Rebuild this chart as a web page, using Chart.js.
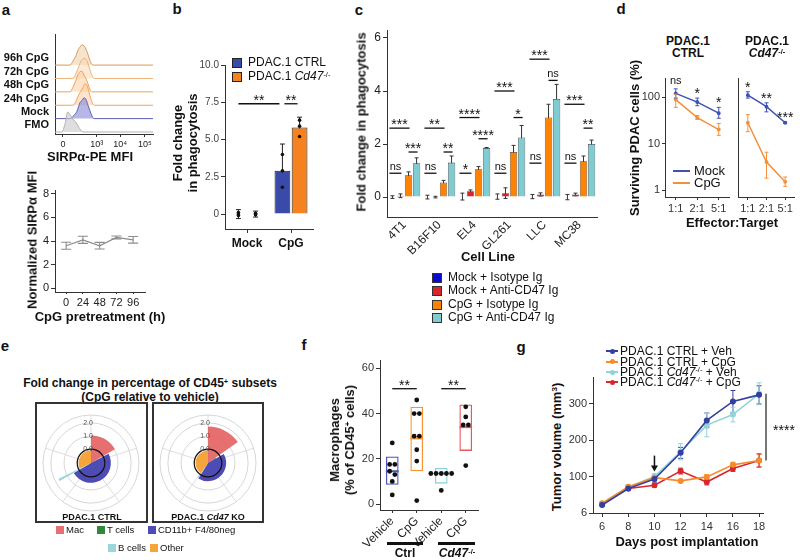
<!DOCTYPE html>
<html><head><meta charset="utf-8">
<script src="https://cdn.jsdelivr.net/npm/chart.js@4.4.1/dist/chart.umd.min.js"></script>
<style>
html,body{margin:0;padding:0;background:#fff;}
body{width:800px;height:560px;position:relative;overflow:hidden;font-family:"Liberation Sans",Arial,Helvetica,sans-serif;color:#111;}
canvas{position:absolute;}
.t{position:absolute;white-space:nowrap;line-height:1.15;z-index:5;}
.sq{position:absolute;z-index:5;box-sizing:border-box;}
sup{font-size:0.62em;vertical-align:0.45em;line-height:0;}
</style></head><body>
<script>
// ================= DATA =================
// Panel a (top): SIRPα-PE histograms, one ridge per condition
const ridgeNames = ['FMO','Mock','24h CpG','48h CpG','72h CpG','96h CpG'];
const ridgeX = [
 [-0.34,-0.06,0.09,0.21,0.30,0.43,0.56,0.68,0.81,0.90,3.85],
 [-0.34,0.30,0.47,0.60,0.73,0.81,0.90,0.98,1.07,1.15,1.24,1.32,3.85],
 [-0.34,0.43,0.56,0.68,0.77,0.85,0.94,1.03,1.11,1.20,1.28,1.37,3.85],
 [-0.34,0.30,0.43,0.56,0.64,0.73,0.81,0.90,0.98,1.07,1.15,1.24,3.85],
 [-0.34,0.43,0.56,0.68,0.77,0.85,0.94,1.03,1.11,1.20,1.28,1.37,3.85],
 [-0.34,0.30,0.43,0.56,0.64,0.73,0.81,0.90,0.98,1.07,1.15,1.24,1.32,3.85]
];
const ridgeH = [
 [0,0,0.6,1.5,1.3,0.95,0.7,0.35,0.05,0,0],
 [0,0,0.25,0.55,1.2,1.35,1.55,1.45,1.0,0.6,0.2,0,0],
 [0,0,0.3,0.8,1.05,1.3,1.6,1.45,1.0,0.45,0.1,0,0],
 [0,0,0.35,0.9,1.3,1.5,1.55,1.25,1.0,0.6,0.2,0,0],
 [0,0,0.4,0.9,1.3,1.45,1.5,1.3,0.9,0.4,0.1,0,0],
 [0,0,0.3,0.7,1.1,1.35,1.5,1.45,1.2,0.8,0.35,0.05,0,0]
];
const mfiTickPos = [0,1.45,2.45,3.5];
const mfiTickLabels = ['0','10³','10⁴','10⁵'];
// Panel a (bottom)
const cpgHours = [0,24,48,72,96];
const sirpMean = [3.6,4.1,3.6,4.3,4.1];
const sirpErr = [0.3,0.3,0.28,0.12,0.28];
const sirpTicks = [0,2,4,6,8];
// Panel b
const bCats = ['Mock','CpG'];
const bCtrl = [0.0,2.9];
const bKo = [0.0,5.8];
const bCtrlSd = [0.3,1.8];
const bKoSd = [0.2,0.7];
const bCtrlPts = [[0.1,0.0,-0.1],[4.0,2.9,1.8]];
const bKoPts = [[0.05,0.0,-0.05],[6.3,5.9,5.2]];
const bTicks = [0,2.5,5,7.5,10];
const bTickLabels = ['0','2.5','5.0','7.5','10.0'];
const bSig = ['**','**'];
const bSigY = [7.4,7.4];
// Panel c
const cCats = ['4T1','B16F10','EL4','GL261','LLC','MC38'];
const cSeriesNames = ['Mock + Isotype Ig','Mock + Anti-CD47 Ig','CpG + Isotype Ig','CpG + Anti-CD47 Ig'];
const cMockIso = [0.0,0.0,0.02,0.02,0.02,0.0];
const cMockAnti = [0.05,0.0,0.22,0.15,0.1,0.1];
const cCpgIso = [0.82,0.55,1.05,1.7,3.0,1.35];
const cCpgAnti = [1.28,1.3,1.85,2.25,3.7,2.0];
const cMockIsoSd = [0.05,0.07,0.13,0.1,0.08,0.1];
const cMockAntiSd = [0.07,0.03,0.05,0.2,0.06,0.05];
const cCpgIsoSd = [0.13,0.08,0.1,0.25,0.5,0.2];
const cCpgAntiSd = [0.2,0.25,0.02,0.45,0.55,0.15];
const cTicks = [0,2,4,6];
const cSigLeft = ['ns','ns','*','ns','ns','ns'];
const cSigLeftY = [0.9,0.9,0.9,0.9,1.28,1.28];
const cSigTop = ['***','**','****','***','***','***'];
const cSigTopY = [2.6,2.6,3.0,4.0,5.2,3.5];
const cSigRight = ['***','**','****','*','ns','**'];
const cSigRightY = [1.7,1.7,2.2,3.0,4.4,2.6];
// Panel d
const dRatios = ['1:1','2:1','5:1'];
const dCtrlMock = [120,78,45];
const dCtrlMockLo = [95,65,35];
const dCtrlMockHi = [150,95,60];
const dCtrlCpg = [88,36,20];
const dCtrlCpgLo = [60,33,15];
const dCtrlCpgHi = [115,40,27];
const dKoMock = [110,62,28];
const dKoMockLo = [95,48,27];
const dKoMockHi = [130,75,29];
const dKoCpg = [28,4,1.5];
const dKoCpgLo = [18,1.8,1.2];
const dKoCpgHi = [42,6.5,1.9];
const dCtrlSig = ['ns','*','*'];
const dKoSig = ['*','**','***'];
const dTicks = [1,10,100];
// Panel e
const eSubsets = ['Mac','T cells','CD11b+ F4/80neg','B cells','Other'];
const eCtrl = [1.05,-0.5,0.46,1.7,-0.1];
const eKo = [1.72,-0.35,0.33,0.3,-0.1];
const eCtrlAngle = [60,2,178,4,116];
const eKoAngle = [55,5,152,4,144];
const eRingTicks = [0,1,2];
// Panel f
const fCats = ['Vehicle','CpG','Vehicle','CpG'];
const fLow = [8.5,14.5,9,23.5];
const fHigh = [21,43,16,44];
const fMean = [14.5,29,13.5,34];
const fPts = [[27,17.5,17.5,14.5,13,10,4],[46,40,40,30,30,24,19,1.5],[13.5,13.5,13.5,13.5,13.5,6],[43,38.5,35,35,17]];
const fTicks = [0,20,40,60];
const fSig = ['**','**'];
const fSigY = [51,51];
// Panel g
const gDays = [6,8,10,12,14,16,18];
const gSeries = ['PDAC.1 CTRL + Veh','PDAC.1 CTRL + CpG','PDAC.1 Cd47-/- + Veh','PDAC.1 Cd47-/- + CpG'];
const gCtrlVeh = [22,67,93,165,254,306,324];
const gCtrlCpg = [27,72,97,88,99,132,144];
const gKoVeh = [25,71,100,168,241,270,327];
const gKoCpg = [25,67,76,115,85,122,144];
const gCtrlVehSd = [3,5,8,15,20,30,25];
const gCtrlCpgSd = [3,5,6,4,6,7,18];
const gKoVehSd = [3,5,8,22,32,20,30];
const gKoCpgSd = [3,4,5,8,8,8,18];
const gTicks = [0,100,200,300];
const gTickLabels = ['6','100','200','300'];
const gArrowDay = 10;
const gSigText = '****';

// ================= STYLE / HELPERS =================
const FONT = '"Liberation Sans", Arial, Helvetica, sans-serif';
Chart.defaults.font.family = FONT;
Chart.defaults.font.size = 11;
Chart.defaults.color = '#222';
Chart.defaults.plugins.legend.display = false;
Chart.defaults.plugins.tooltip.enabled = false;
Chart.defaults.animation = false;
const AX = '#333';

function merge(a,b){ for(const k in b){ const v=b[k]; if(v && typeof v==='object' && !Array.isArray(v) && a[k] && typeof a[k]==='object' && typeof a[k]!=='function') merge(a[k],v); else a[k]=v; } return a; }
function lin(min,max,ticks,labels,extra){
  return merge({type:'linear',bounds:'data',min,max,
    afterBuildTicks:s=>{s.ticks=ticks.map(v=>({value:v}));},
    ticks:{autoSkip:false,maxRotation:0,padding:2,callback:(v,i)=>labels?labels[i]:String(v)},
    grid:{display:true,drawOnChartArea:false,drawTicks:true,tickLength:4,color:AX},
    border:{display:true,color:AX,width:1}}, extra||{});
}
function cat(extra){
  return merge({type:'category',offset:true,
    ticks:{autoSkip:false,maxRotation:0,padding:2},
    grid:{display:true,drawOnChartArea:false,drawTicks:true,tickLength:4,color:AX,offset:false},
    border:{display:true,color:AX,width:1}}, extra||{});
}
function mk(box,area,cfg){
  const cv=document.createElement('canvas');
  cv.width=box.w; cv.height=box.h;
  cv.style.left=box.l+'px'; cv.style.top=box.t+'px';
  cv.style.width=box.w+'px'; cv.style.height=box.h+'px';
  document.body.appendChild(cv);
  const o=cfg.options=cfg.options||{};
  const hasX=o.scales&&o.scales.x, hasY=o.scales&&o.scales.y;
  o.responsive=false; o.maintainAspectRatio=false; o.animation=false; o.devicePixelRatio=1; o.events=[];
  o.layout={padding:{left:hasY?0:area.l-box.l, top:area.t-box.t, right:box.l+box.w-area.r, bottom:hasX?0:box.t+box.h-area.b}};
  if(hasY) o.scales.y.afterFit=s=>{s.width=area.l-box.l;};
  if(hasX) o.scales.x.afterFit=s=>{s.height=box.t+box.h-area.b;};
  return new Chart(cv.getContext('2d'),cfg);
}
function vbar(ctx,x,y1,y2,cap,color,lw){
  ctx.save(); ctx.strokeStyle=color; ctx.lineWidth=lw||1;
  ctx.beginPath(); ctx.moveTo(x,y1); ctx.lineTo(x,y2);
  ctx.moveTo(x-cap/2,y1); ctx.lineTo(x+cap/2,y1);
  ctx.moveTo(x-cap/2,y2); ctx.lineTo(x+cap/2,y2);
  ctx.stroke(); ctx.restore();
}
function sig(ctx,x1,x2,y,text){
  ctx.save(); ctx.strokeStyle='#111'; ctx.lineWidth=1.3;
  ctx.beginPath(); ctx.moveTo(x1,y); ctx.lineTo(x2,y); ctx.stroke();
  ctx.fillStyle='#111'; ctx.textAlign='center'; ctx.textBaseline='alphabetic';
  const star=text.indexOf('*')>=0;
  ctx.font=(star?14:11)+'px '+FONT;
  ctx.fillText(text,(x1+x2)/2, star? y+1 : y-3);
  ctx.restore();
}
function T(html,x,y,o){
  o=o||{};
  const d=document.createElement('div'); d.className='t'; d.innerHTML=html;
  d.style.left=x+'px'; d.style.top=y+'px'; d.style.fontSize=(o.s||12)+'px';
  if(o.b) d.style.fontWeight='bold';
  if(o.lh) d.style.lineHeight=o.lh+'px';
  if(o.ta) d.style.textAlign=o.ta;
  let tr=o.a==='l'?'translate(0,-50%)':'translate(-50%,-50%)';
  if(o.r) tr+=' rotate(-90deg)';
  d.style.transform=tr;
  document.body.appendChild(d);
}
function SQ(x,y,w,h,bg,bd){
  const d=document.createElement('div'); d.className='sq';
  d.style.cssText+=`left:${x}px;top:${y}px;width:${w}px;height:${h}px;background:${bg};`+(bd?`border:${bd};`:'');
  document.body.appendChild(d);
}
const fmt=s=>s.replace('Cd47-/-','<i>Cd47</i><sup>-/-</sup>');

// ================= PANEL a (histograms) =================
const ridgeLine=['#b0b0b0','#5e5eb8','#f3a35e','#f2a05a','#eeb27a','#d8985e'];
const ridgeFill=['rgba(200,200,200,0.6)','rgba(135,135,215,0.6)','rgba(251,205,160,0.55)','rgba(251,205,160,0.55)','rgba(250,215,180,0.55)','rgba(240,205,168,0.55)'];
mk({l:0,t:22,w:162,h:128},{l:55,t:30,r:153,b:134},{
  type:'line',
  data:{datasets:ridgeNames.map((n,i)=>({label:n,
    data:ridgeX[i].map((x,k)=>({x:x,y:i+ridgeH[i][k]})),
    borderColor:ridgeLine[i],backgroundColor:ridgeFill[i],borderWidth:1,
    fill:{value:i},pointRadius:0,cubicInterpolationMode:'monotone'}))},
  options:{scales:{
    x:lin(-0.34,3.85,mfiTickPos,mfiTickLabels,{ticks:{font:{size:9}},grid:{tickLength:3}}),
    y:lin(-0.15,7.28,ridgeNames.map((n,i)=>i+0.5),ridgeNames,{ticks:{font:{size:11,weight:'bold'},color:'#111',padding:6},grid:{display:false,drawTicks:false}})
  }}
});

// ================= PANEL a (line) =================
mk({l:0,t:180,w:160,h:128},{l:55,t:190,r:145,b:292},{
  type:'line',
  data:{datasets:[{label:'SIRPα',data:cpgHours.map((h,i)=>({x:h,y:sirpMean[i]})),borderColor:'#8c8c8c',borderWidth:1.2,pointRadius:0,tension:0}]},
  options:{scales:{
    x:lin(-16,113,cpgHours,null,{grid:{tickLength:2}}),
    y:lin(-0.3,8.3,sirpTicks,null,{})
  }},
  plugins:[{id:'ea',beforeDatasetsDraw(ch){const {ctx,scales:{x,y}}=ch;
    cpgHours.forEach((h,i)=>vbar(ctx,x.getPixelForValue(h),y.getPixelForValue(sirpMean[i]+sirpErr[i]),y.getPixelForValue(sirpMean[i]-sirpErr[i]),10,'#8c8c8c',1.1));}}]
});

// ================= PANEL b =================
mk({l:195,t:52,w:125,h:198},{l:225,t:65,r:313,b:229},{
  type:'bar',
  data:{labels:bCats,datasets:[
    {label:'PDAC.1 CTRL',data:bCtrl,backgroundColor:'#3a4aa8',borderColor:'#222',borderWidth:1},
    {label:'PDAC.1 Cd47-/-',data:bKo,backgroundColor:'#f5821f',borderColor:'#222',borderWidth:1}]},
  options:{datasets:{bar:{categoryPercentage:0.78,barPercentage:0.92}},
    scales:{
      x:cat({ticks:{font:{size:12,weight:'bold'},color:'#111',padding:3}}),
      y:lin(-1,10,bTicks,bTickLabels,{ticks:{font:{size:10},color:'#444'}})
    }},
  plugins:[{id:'pb',
    beforeDatasetsDraw(ch){const {ctx,scales:{y}}=ch; const sds=[bCtrlSd,bKoSd];
      ch.data.datasets.forEach((ds,di)=>ch.getDatasetMeta(di).data.forEach((bar,i)=>{
        const v=ds.data[i],s=sds[di][i]; vbar(ctx,bar.x,y.getPixelForValue(v+s),y.getPixelForValue(v-s),5,'#222',1);}));},
    afterDatasetsDraw(ch){const {ctx,scales:{y}}=ch; const pts=[bCtrlPts,bKoPts];
      ctx.save(); ctx.fillStyle='#111';
      [0,1].forEach(di=>ch.getDatasetMeta(di).data.forEach((bar,i)=>pts[di][i].forEach(v=>{ctx.beginPath();ctx.arc(bar.x,y.getPixelForValue(v),1.8,0,Math.PI*2);ctx.fill();})));
      ctx.restore();
      const m0=ch.getDatasetMeta(0).data, m1=ch.getDatasetMeta(1).data;
      sig(ctx,m0[0].x,m0[1].x-3,y.getPixelForValue(bSigY[0]),bSig[0]);
      sig(ctx,m0[1].x+2,m1[1].x-2,y.getPixelForValue(bSigY[1]),bSig[1]);
    }}]
});

// ================= PANEL c =================
const cColors=['#0a0ad2','#d7262b','#ff8200','#7fcdd3'];
const cVals=[cMockIso,cMockAnti,cCpgIso,cCpgAnti];
const cSds=[cMockIsoSd,cMockAntiSd,cCpgIsoSd,cCpgAntiSd];
mk({l:345,t:20,w:260,h:250},{l:387,t:30,r:597,b:217},{
  type:'bar',
  data:{labels:cCats,datasets:cSeriesNames.map((n,i)=>({label:n,data:cVals[i],backgroundColor:cColors[i],borderColor:'#444',borderWidth:0.8}))},
  options:{datasets:{bar:{categoryPercentage:0.92,barPercentage:0.92}},
    scales:{
      x:cat({ticks:{font:{size:12},maxRotation:45,minRotation:45,padding:1,color:'#222'},grid:{drawTicks:false}}),
      y:lin(-0.75,6.3,cTicks,null,{ticks:{font:{size:12}}})
    }},
  plugins:[{id:'pc',
    beforeDatasetsDraw(ch){const {ctx,scales:{y}}=ch;
      cVals.forEach((vals,di)=>ch.getDatasetMeta(di).data.forEach((bar,i)=>{
        vbar(ctx,bar.x,y.getPixelForValue(vals[i]+cSds[di][i]),y.getPixelForValue(vals[i]-cSds[di][i]),4,'#333',1);}));},
    afterDatasetsDraw(ch){const {ctx,scales:{y}}=ch;
      const m=d=>ch.getDatasetMeta(d).data;
      cCats.forEach((c,i)=>{
        const xs=[0,1,2,3].map(d=>m(d)[i].x);
        sig(ctx,xs[0]-3,xs[1]+1,y.getPixelForValue(cSigLeftY[i]),cSigLeft[i]);
        sig(ctx,xs[0]-3,xs[2]+1,y.getPixelForValue(cSigTopY[i]),cSigTop[i]);
        sig(ctx,xs[2],xs[3]+1,y.getPixelForValue(cSigRightY[i]),cSigRight[i]);
      });}}]
});

// ================= PANEL d =================
const dBlue='#3f51b5', dOrange='#f5903a';
function dChart(box,area,sets,sigs,showY){
  return mk(box,area,{
    type:'line',
    data:{labels:dRatios,datasets:sets.map(s=>({label:s.name,data:s.v,borderColor:s.color,backgroundColor:s.color,borderWidth:1.5,pointRadius:1.2,tension:0}))},
    options:{scales:{
      x:cat({ticks:{font:{size:11},color:'#333'},grid:{tickLength:3}}),
      y:merge({type:'logarithmic',bounds:'data',min:0.707,max:257,
        afterBuildTicks:s=>{s.ticks=dTicks.map(v=>({value:v}));},
        ticks:{display:showY,autoSkip:false,padding:2,font:{size:11},color:'#333',callback:v=>String(v)},
        grid:{display:true,drawOnChartArea:false,drawTicks:showY,tickLength:3,color:AX},
        border:{display:true,color:AX}},{})
    }},
    plugins:[{id:'pd',afterDatasetsDraw(ch){const {ctx,scales:{x,y}}=ch;
      sets.forEach(s=>s.lo.forEach((l,i)=>vbar(ctx,x.getPixelForValue(i),y.getPixelForValue(s.hi[i]),y.getPixelForValue(l),4,s.color,1)));
      ctx.save(); ctx.fillStyle='#111'; ctx.textAlign='center';
      sigs.forEach((t,i)=>{const top=Math.min(...sets.map(s=>y.getPixelForValue(s.hi[i])));
        const star=t.indexOf('*')>=0; ctx.font=(star?14:11)+'px '+FONT;
        ctx.fillText(t,x.getPixelForValue(i),star?top:top-5);});
      ctx.restore();}}]
  });
}
dChart({l:640,t:65,w:95,h:155},{l:665,t:78,r:731,b:197},
  [{name:'Mock',v:dCtrlMock,lo:dCtrlMockLo,hi:dCtrlMockHi,color:dBlue},{name:'CpG',v:dCtrlCpg,lo:dCtrlCpgLo,hi:dCtrlCpgHi,color:dOrange}],dCtrlSig,true);
dChart({l:733,t:65,w:67,h:155},{l:735,t:78,r:797,b:197},
  [{name:'Mock',v:dKoMock,lo:dKoMockLo,hi:dKoMockHi,color:dBlue},{name:'CpG',v:dKoCpg,lo:dKoCpgLo,hi:dKoCpgHi,color:dOrange}],dKoSig,false);

// ================= PANEL e (polar) =================
const eColors=['rgba(226,92,92,0.88)','#2f8a3c','rgba(66,66,176,0.95)','#9bd6dc','rgba(245,160,50,0.95)'];
const ePlugin={id:'ep',afterDatasetsDraw(ch){
  const r=ch.scales.r, ctx=ch.ctx; ctx.save();
  ctx.strokeStyle='#111'; ctx.lineWidth=1.2; ctx.beginPath();
  ctx.arc(r.xCenter,r.yCenter,r.getDistanceFromCenterForValue(0),0,Math.PI*2); ctx.stroke();
  ctx.font='7px '+FONT; ctx.fillStyle='#555'; ctx.textAlign='center'; ctx.textBaseline='middle';
  eRingTicks.forEach(v=>ctx.fillText(v.toFixed(1),r.xCenter-3,r.yCenter-r.getDistanceFromCenterForValue(v)));
  ctx.restore();}};
function ePolar(box,vals,angles){
  return mk(box,{l:box.l+2,t:box.t+2,r:box.l+box.w-2,b:box.t+box.h-2},{
    type:'polarArea',
    data:{labels:eSubsets,datasets:[{data:vals,angle:angles,backgroundColor:eColors,borderWidth:0}]},
    options:{scales:{r:{type:'radialLinear',bounds:'data',min:-1.05,max:2.6,
      afterBuildTicks:s=>{s.ticks=[-1.05].concat(eRingTicks,[2.6]).map(v=>({value:v}));},
      ticks:{display:false},pointLabels:{display:false},
      grid:{color:'#cdcdcd',lineWidth:0.8},angleLines:{display:true,color:'#d6d6d6',lineWidth:0.8},startAngle:0}}},
    plugins:[ePlugin]
  });
}
ePolar({l:41,t:413,w:100,h:100},eCtrl,eCtrlAngle);
ePolar({l:158,t:413,w:100,h:100},eKo,eKoAngle);

// ================= PANEL f =================
const fColors=['#4a55b5','#f79433','#8fd0d8','#e8585a'];
mk({l:350,t:350,w:135,h:200},{l:380,t:360,r:478,b:510},{
  type:'bar',
  data:{labels:fCats,datasets:[{label:'Macrophages',data:fLow.map((l,i)=>[l,fHigh[i]]),backgroundColor:'rgba(255,255,255,0)',borderColor:fColors,borderWidth:1.3,borderSkipped:false,barPercentage:0.52,categoryPercentage:1}]},
  options:{scales:{
    x:cat({ticks:{font:{size:12},maxRotation:45,minRotation:45,padding:1,color:'#222'},grid:{tickLength:3}}),
    y:lin(-2.65,63.7,fTicks,null,{ticks:{font:{size:11},color:'#333'}})
  }},
  plugins:[{id:'pf',afterDatasetsDraw(ch){
    const {ctx,scales:{x,y}}=ch; const bars=ch.getDatasetMeta(0).data; ctx.save();
    bars.forEach((b,i)=>{const ym=y.getPixelForValue(fMean[i]); ctx.strokeStyle=fColors[i]; ctx.lineWidth=2;
      ctx.beginPath(); ctx.moveTo(b.x-b.width/2,ym); ctx.lineTo(b.x+b.width/2,ym); ctx.stroke();});
    ctx.fillStyle='#111';
    fPts.forEach((vals,i)=>{const cx=x.getPixelForValue(i); const s=vals.slice().sort((a,b)=>b-a); let k=0;
      while(k<s.length){let j=k; while(j+1<s.length && s[k]-s[j+1]<1.6) j++; const n=j-k+1;
        for(let m=0;m<n;m++){ctx.beginPath(); ctx.arc(cx+(m-(n-1)/2)*5.2,y.getPixelForValue(s[k+m]),2.4,0,Math.PI*2); ctx.fill();}
        k=j+1;}});
    ctx.restore();
    sig(ctx,x.getPixelForValue(0),x.getPixelForValue(1),y.getPixelForValue(fSigY[0]),fSig[0]);
    sig(ctx,x.getPixelForValue(2),x.getPixelForValue(3),y.getPixelForValue(fSigY[1]),fSig[1]);
  }}]
});

// ================= PANEL g =================
const gColors=['#3340a0','#f68b2c','#92d3d9','#d8262f'];
const gVals=[gCtrlVeh,gCtrlCpg,gKoVeh,gKoCpg];
const gSds=[gCtrlVehSd,gCtrlCpgSd,gKoVehSd,gKoCpgSd];
mk({l:565,t:365,w:235,h:168},{l:593,t:377,r:763,b:513},{
  type:'line',
  data:{datasets:gSeries.map((n,si)=>({label:n,data:gDays.map((d,i)=>({x:d,y:gVals[si][i]})),borderColor:gColors[si],backgroundColor:gColors[si],borderWidth:1.6,pointRadius:2.2,tension:0}))},
  options:{scales:{
    x:lin(5.3,18.3,gDays,null,{ticks:{font:{size:11},color:'#333',padding:3}}),
    y:lin(0,373,gTicks,gTickLabels,{ticks:{font:{size:11},color:'#333'}})
  }},
  plugins:[{id:'pg',
    beforeDatasetsDraw(ch){const {ctx,scales:{x,y}}=ch;
      gVals.forEach((vals,si)=>vals.forEach((v,i)=>vbar(ctx,x.getPixelForValue(gDays[i]),y.getPixelForValue(v+gSds[si][i]),y.getPixelForValue(v-gSds[si][i]),5,gColors[si],1)));},
    afterDatasetsDraw(ch){const {ctx,scales:{x,y},chartArea:a}=ch; ctx.save();
      const di=gDays.indexOf(gArrowDay), ax=x.getPixelForValue(gArrowDay);
      const tip=Math.min(...gVals.map((v,si)=>y.getPixelForValue(v[di]+gSds[si][di])))-2;
      ctx.strokeStyle='#111'; ctx.fillStyle='#111'; ctx.lineWidth=1.5;
      ctx.beginPath(); ctx.moveTo(ax,tip-16); ctx.lineTo(ax,tip-4); ctx.stroke();
      ctx.beginPath(); ctx.moveTo(ax-3.5,tip-6); ctx.lineTo(ax+3.5,tip-6); ctx.lineTo(ax,tip); ctx.closePath(); ctx.fill();
      const last=gDays.length-1;
      const hi=y.getPixelForValue(Math.max(...gVals.map(v=>v[last]))), lo=y.getPixelForValue(Math.min(...gVals.map(v=>v[last])));
      ctx.strokeStyle='#777'; ctx.lineWidth=2; ctx.beginPath(); ctx.moveTo(a.right+3,hi); ctx.lineTo(a.right+3,lo); ctx.stroke();
      ctx.font='14px '+FONT; ctx.textAlign='center'; ctx.fillText(gSigText,a.right+21,(hi+lo)/2+8);
      ctx.restore();}}]
});

// ================= HTML TEXT / LEGENDS =================
// panel letters
T('a',6,10,{s:15,b:1}); T('b',177,9,{s:15,b:1}); T('c',359,10,{s:15,b:1}); T('d',621,9,{s:15,b:1});
T('e',5,346,{s:15,b:1}); T('f',304,345,{s:15,b:1}); T('g',521,347,{s:15,b:1});
// a
T('SIRPα-PE MFI',90,157,{s:13,b:1});
T('Normalized SIRPα MFI',33,240,{s:13,b:1,r:1});
T('CpG pretreatment (h)',100,317,{s:13,b:1});
// b
T('Fold change<br>in phagocytosis',185,143,{s:13,b:1,r:1,lh:15,ta:'center'});
SQ(232,58,10,10,'#3a4aa8','1px solid #222'); T('PDAC.1 CTRL',248,63,{a:'l',s:12});
SQ(232,72,10,10,'#f5821f','1px solid #222'); T(fmt('PDAC.1 Cd47-/-'),248,77,{a:'l',s:12});
// c
T('Fold change in phagocytosis',362,122,{s:13,b:1,r:1});
T('Cell Line',488,257,{s:13,b:1});
[278,291,305,318].forEach((yy,i)=>{SQ(432,yy-5,10,10,cColors[i],'1px solid #333'); T(cSeriesNames[i],448,yy,{a:'l',s:12});});
// d
T('PDAC.1',688,42,{s:12,b:1}); T('CTRL',688,54,{s:12,b:1});
T('PDAC.1',767,42,{s:12,b:1}); T('<i>Cd47</i><sup>-/-</sup>',767,54,{s:12,b:1});
T('Surviving PDAC cells (%)',635,138,{s:13,b:1,r:1});
T('Effector:Target',732,223,{s:13,b:1});
SQ(673,170,17,2,dBlue); T('Mock',694,171,{a:'l',s:13});
SQ(673,182,17,2,dOrange); T('CpG',694,183,{a:'l',s:13});
// e
T('Fold change in percentage of CD45<sup>+</sup> subsets',150,384,{s:12,b:1});
T('(CpG relative to vehicle)',150,398,{s:12,b:1});
SQ(35,402,113,121,'transparent','2px solid #333');
SQ(152,402,112,121,'transparent','2px solid #333');
T('PDAC.1 CTRL',92,517,{s:9,b:1});
T('PDAC.1 <i>Cd47</i> KO',208,517,{s:9,b:1});
const eLegPos=[[56,530],[97,530],[148,530],[108,548],[150,548]];
eSubsets.forEach((n,i)=>{SQ(eLegPos[i][0],eLegPos[i][1]-4,8,8,eColors[i]); T(n,eLegPos[i][0]+10,eLegPos[i][1],{a:'l',s:9.5});});
// f
T('Macrophages<br>(% of CD45<sup>+</sup> cells)',342,440,{s:13,b:1,r:1,lh:15,ta:'center'});
SQ(387,542,36,3,'#111'); SQ(438,542,37,3,'#111');
T('Ctrl',405,554,{s:12,b:1}); T('<i>Cd47</i><sup>-/-</sup>',457,554,{s:12,b:1});
// g
T('Tumor volume (mm<sup>3</sup>)',557,447,{s:13,b:1,r:1});
T('Days post implantation',687,542,{s:13,b:1});
[351,361.5,372,382].forEach((yy,i)=>{
  SQ(606,yy-1,12,2,gColors[i]);
  const d=document.createElement('div'); d.className='sq';
  d.style.cssText+=`left:${609.5}px;top:${yy-2.5}px;width:5px;height:5px;border-radius:50%;background:${gColors[i]};`;
  document.body.appendChild(d);
  T(fmt(gSeries[i]),620,yy,{a:'l',s:12,lh:11});
});
</script>
</body></html>
